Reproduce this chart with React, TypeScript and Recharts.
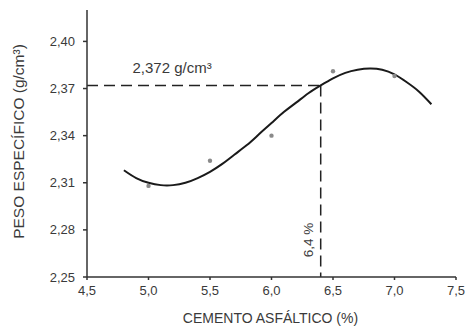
import React from 'react';
import { ComposedChart, Line, Scatter, XAxis, YAxis, ReferenceLine, ReferenceDot } from 'recharts';

const xTicks = [4.5, 5.0, 5.5, 6.0, 6.5, 7.0, 7.5];
const yTicks = [2.25, 2.28, 2.31, 2.34, 2.37, 2.40];

const pointX = [5.0, 5.5, 6.0, 6.5, 7.0];
const pointY = [2.308, 2.324, 2.34, 2.381, 2.378];

const curveX = [4.8, 4.9, 5.0, 5.1, 5.2, 5.3, 5.4, 5.5, 5.6, 5.7, 5.8, 5.9, 6.0, 6.1, 6.2, 6.3, 6.4, 6.5, 6.6, 6.7, 6.8, 6.9, 7.0, 7.1, 7.2, 7.3];
const curveY = [2.318, 2.313, 2.310, 2.3085, 2.3085, 2.310, 2.313, 2.317, 2.322, 2.328, 2.334, 2.341, 2.348, 2.355, 2.361, 2.367, 2.372, 2.3765, 2.380, 2.382, 2.3828, 2.382, 2.379, 2.374, 2.368, 2.360];

const optX = 6.4;
const optY = 2.372;
const optYLabel = '2,372 g/cm³';
const optXLabel = '6,4 %';

const points = pointX.map((x, i) => ({ x, y: pointY[i] }));
const curve = curveX.map((x, i) => ({ x, y: curveY[i] }));

const FONT = 'Liberation Sans, Arial, sans-serif';
const TXT = '#3a3a3a';
const AX = '#333';

const fmt1 = (v: number) => v.toFixed(1).replace('.', ',');
const fmt2 = (v: number) => v.toFixed(2).replace('.', ',');

export default function App() {
  return (
    <div style={{ position: 'absolute', left: 0, top: 0, background: '#fff' }}>
      <ComposedChart width={466} height={327} margin={{ top: 10, right: 10, bottom: 20, left: 0 }}>
        <XAxis
          dataKey="x"
          type="number"
          domain={[4.5, 7.5]}
          ticks={xTicks}
          tickFormatter={fmt1}
          allowDataOverflow
          height={30}
          stroke={AX}
          strokeWidth={1.5}
          tickSize={3}
          tickMargin={6}
          tick={{ fill: TXT, fontSize: 13, fontFamily: FONT }}
          label={(props: any) => {
            const vb = props.viewBox;
            return (
              <text x={vb.x + vb.width / 2 - 1} y={323} textAnchor="middle" fill={TXT} fontSize={14} fontFamily={FONT}>
                CEMENTO ASFÁLTICO (%)
              </text>
            );
          }}
        />
        <YAxis
          type="number"
          domain={[2.25, 2.42]}
          ticks={yTicks}
          tickFormatter={fmt2}
          allowDataOverflow
          width={87}
          stroke={AX}
          strokeWidth={1.5}
          tickSize={4}
          tickMargin={8}
          tick={{ fill: TXT, fontSize: 13, fontFamily: FONT }}
          label={(props: any) => {
            const vb = props.viewBox;
            const cy = vb.y + vb.height / 2 - 2;
            return (
              <text x={18} y={cy} transform={`rotate(-90, 18, ${cy})`} textAnchor="middle" dominantBaseline="central" fill={TXT} fontSize={15.5} fontFamily={FONT}>
                PESO ESPECÍFICO (g/cm³)
              </text>
            );
          }}
        />
        <ReferenceLine
          segment={[{ x: 4.5, y: optY }, { x: optX, y: optY }]}
          stroke="#222"
          strokeWidth={1.5}
          strokeDasharray="11 6"
        />
        <ReferenceLine
          segment={[{ x: optX, y: optY }, { x: optX, y: 2.25 }]}
          stroke="#222"
          strokeWidth={1.5}
          strokeDasharray="11 6"
        />
        <ReferenceDot
          x={4.87}
          y={2.3835}
          r={0}
          fill="none"
          stroke="none"
          label={(props: any) => {
            const vb = props.viewBox;
            return (
              <text x={vb.x} y={vb.y} dominantBaseline="central" textAnchor="start" fill={TXT} fontSize={15} fontFamily={FONT}>
                {optYLabel}
              </text>
            );
          }}
        />
        <ReferenceDot
          x={6.3}
          y={2.2735}
          r={0}
          fill="none"
          stroke="none"
          label={(props: any) => {
            const vb = props.viewBox;
            return (
              <text x={vb.x} y={vb.y} transform={`rotate(-90, ${vb.x}, ${vb.y})`} dominantBaseline="central" textAnchor="middle" fill={TXT} fontSize={13.5} fontFamily={FONT}>
                {optXLabel}
              </text>
            );
          }}
        />
        <Line
          data={curve}
          dataKey="y"
          type="natural"
          stroke="#1a1a1a"
          strokeWidth={2}
          dot={false}
          activeDot={false}
          isAnimationActive={false}
        />
        <Scatter
          data={points}
          dataKey="y"
          fill="#8a8a8a"
          shape={(p: any) => <circle cx={p.cx} cy={p.cy} r={2.2} fill="#8a8a8a" />}
          isAnimationActive={false}
        />
      </ComposedChart>
    </div>
  );
}
